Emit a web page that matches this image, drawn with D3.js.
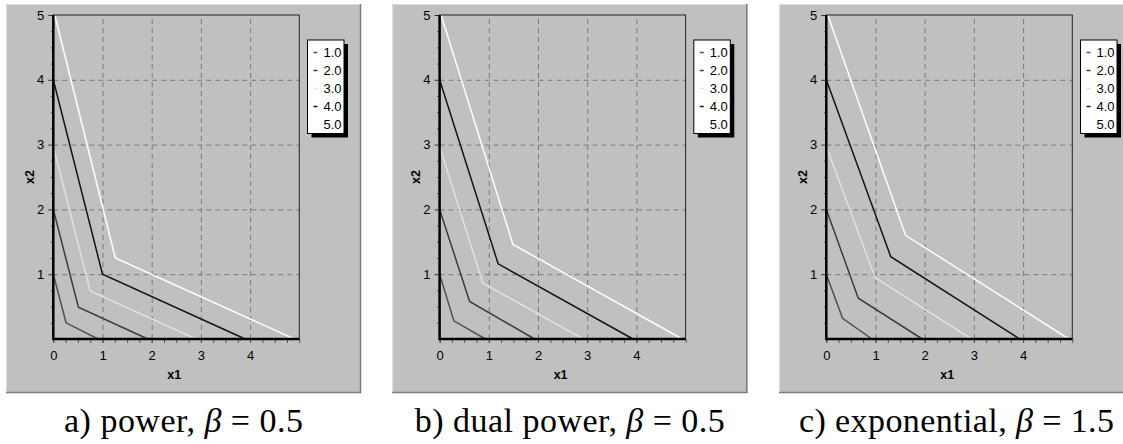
<!DOCTYPE html>
<html>
  <head>
    <title>Indifference curves</title>
    <script src="https://d3js.org/d3.v7.min.js"></script>
    <style>
      body { margin: 0; background: #fff; }
      text { font-family: "Liberation Sans", Arial, sans-serif; }
    </style>
  </head>

  <body>
    <svg width="1123" height="444"></svg>

    <script type="text/javascript">
      // levels shown in the legend, and the colour of each curve
      var levels = ["1.0", "2.0", "3.0", "4.0", "5.0"];
      var lineColors = ["#505050", "#3c3c3c", "#e0e0e0", "#141414", "#ffffff"];

      // axis ticks
      var xLabels = [0, 1, 2, 3, 4];
      var yLabels = [1, 2, 3, 4, 5];
      var gridValues = [1, 2, 3, 4];

      // a) power, beta = 0.5 : [x1, x2] points of each curve
      var powerCurves = [
        [[0, 1], [0.26, 0.25], [0.91, 0]],
        [[0, 2], [0.51, 0.49], [1.92, 0]],
        [[0, 2.97], [0.75, 0.74], [2.9, 0]],
        [[0, 4], [1.0, 1.0], [3.9, 0]],
        [[0.03, 5], [1.26, 1.25], [4.9, 0]]
      ];

      // b) dual power, beta = 0.5
      var dualPowerCurves = [
        [[0, 1], [0.29, 0.28], [0.93, 0]],
        [[0, 2], [0.61, 0.58], [1.93, 0]],
        [[0, 2.97], [0.88, 0.86], [2.92, 0]],
        [[0, 4], [1.19, 1.16], [3.93, 0]],
        [[0.03, 5], [1.49, 1.46], [4.93, 0]]
      ];

      // c) exponential, beta = 1.5
      var expCurves = [
        [[0, 1], [0.33, 0.32], [0.93, 0]],
        [[0, 2], [0.65, 0.63], [1.95, 0]],
        [[0, 2.97], [0.99, 0.95], [2.95, 0]],
        [[0, 4], [1.31, 1.27], [3.93, 0]],
        [[0.03, 5], [1.61, 1.6], [4.93, 0]]
      ];

      var captions = [
        { pre: "a) power, ", post: " = 0.5", width: 239 },
        { pre: "b) dual power, ", post: " = 0.5", width: 310 },
        { pre: "c) exponential, ", post: " = 1.5", width: 315 }
      ];

      var svg = d3.select("svg");

      drawPanel(6, powerCurves, captions[0]);
      drawPanel(392.3, dualPowerCurves, captions[1]);
      drawPanel(779, expCurves, captions[2]);

      function drawPanel(px, curves, caption) {
        var g = svg.append("g");

        // grey panel with 3d edges
        g.append("rect")
          .attr("x", px)
          .attr("y", 4)
          .attr("width", 355)
          .attr("height", 389)
          .attr("fill", "#c0c0c0");
        g.append("path")
          .attr("d", "M" + (px + 0.5) + ",393V4.5H" + (px + 355))
          .attr("fill", "none")
          .attr("stroke", "#dedede");
        g.append("path")
          .attr("d", "M" + (px + 354.5) + ",4V392.5H" + px)
          .attr("fill", "none")
          .attr("stroke", "#7c7c7c")
          .attr("stroke-width", 1.5);

        var x = d3.scaleLinear().domain([0, 5]).range([px + 47.3, px + 293.3]);
        var y = d3.scaleLinear().domain([0, 5]).range([339, 15]);

        // dashed grid
        g.append("g")
          .attr("transform", "translate(0,339)")
          .call(d3.axisBottom(x).tickValues(gridValues).tickSize(-324).tickFormat(""))
          .call(function (a) { a.select(".domain").remove(); });
        g.append("g")
          .attr("transform", "translate(" + x(0) + ",0)")
          .call(d3.axisLeft(y).tickValues(gridValues).tickSize(-(x(5) - x(0))).tickFormat(""))
          .call(function (a) { a.select(".domain").remove(); });
        g.selectAll(".tick line")
          .attr("stroke", "#7a7a7a")
          .attr("stroke-dasharray", "5,4");

        // curves
        var line = d3.line()
          .x(function (d) { return x(d[0]); })
          .y(function (d) { return y(d[1]); });
        g.append("g")
          .selectAll("path")
          .data(curves)
          .enter()
          .append("path")
          .attr("d", line)
          .attr("fill", "none")
          .attr("stroke", function (d, i) { return lineColors[i]; })
          .attr("stroke-width", 1.5);

        // minor ticks
        var minor = d3.range(0, 5.01, 0.25);
        var bx = g.append("g")
          .attr("transform", "translate(0,339)")
          .call(d3.axisBottom(x).tickValues(minor).tickSize(4).tickFormat(""));
        bx.select(".domain").remove();
        bx.selectAll("line").attr("stroke", "#555");
        var ly = g.append("g")
          .attr("transform", "translate(" + x(0) + ",0)")
          .call(d3.axisLeft(y).tickValues(minor.filter(function (v) { return v % 1 !== 0; })).tickSize(2.5).tickFormat(""));
        ly.select(".domain").remove();
        ly.selectAll("line").attr("stroke", "#555");

        // labels
        var xl = g.append("g")
          .attr("transform", "translate(0,339)")
          .call(d3.axisBottom(x).tickValues(xLabels).tickSize(4).tickPadding(8).tickFormat(d3.format("d")));
        xl.select(".domain").remove();
        xl.selectAll("line").attr("stroke", "#555");
        xl.selectAll("text")
          .attr("fill", "#000")
          .style("font-size", "13px")
          .style("font-family", "Liberation Sans, Arial, sans-serif");
        var yl = g.append("g")
          .attr("transform", "translate(" + x(0) + ",0)")
          .call(d3.axisLeft(y).tickValues(yLabels).tickSize(5).tickPadding(4).tickFormat(d3.format("d")));
        yl.select(".domain").remove();
        yl.selectAll("line").attr("stroke", "#333");
        yl.selectAll("text")
          .attr("fill", "#000")
          .style("font-size", "13px")
          .style("font-family", "Liberation Sans, Arial, sans-serif");

        // plot frame
        g.append("rect")
          .attr("x", x(0))
          .attr("y", y(5))
          .attr("width", x(5) - x(0))
          .attr("height", y(0) - y(5))
          .attr("fill", "none")
          .attr("stroke", "#222")
          .attr("stroke-width", 1);
        g.append("path")
          .attr("d", "M" + x(0) + "," + y(5) + "V" + y(0) + "H" + x(5))
          .attr("fill", "none")
          .attr("stroke", "#000")
          .attr("stroke-width", 2.5);

        // axis titles
        g.append("text")
          .attr("x", (x(0) + x(5)) / 2 - 2)
          .attr("y", 379)
          .attr("text-anchor", "middle")
          .style("font-size", "12.5px")
          .style("font-weight", "bold")
          .text("x1");
        g.append("text")
          .attr("transform", "translate(" + (px + 27.5) + "," + (y(2.5)) + ") rotate(-90)")
          .attr("text-anchor", "middle")
          .style("font-size", "12.5px")
          .style("font-weight", "bold")
          .text("x2");

        // legend
        var lx = px + 301.5;
        g.append("rect")
          .attr("x", lx + 4)
          .attr("y", 44)
          .attr("width", 36.5)
          .attr("height", 93.5)
          .attr("fill", "#000");
        g.append("rect")
          .attr("x", lx)
          .attr("y", 40)
          .attr("width", 36.5)
          .attr("height", 93.5)
          .attr("fill", "#fff")
          .attr("stroke", "#000");
        var rows = g.append("g")
          .selectAll("g")
          .data(levels)
          .enter()
          .append("g")
          .attr("transform", function (d, i) { return "translate(0," + (52 + i * 18) + ")"; });
        rows.append("line")
          .attr("x1", lx + 6)
          .attr("x2", lx + 10)
          .attr("y1", 0.5)
          .attr("y2", 0.5)
          .attr("stroke", function (d, i) { return lineColors[i]; })
          .attr("stroke-width", 1.5);
        rows.append("text")
          .attr("x", lx + 34)
          .attr("y", 0)
          .attr("dy", "0.36em")
          .attr("text-anchor", "end")
          .style("font-size", "13px")
          .text(function (d) { return d; });

        // caption
        var cap = g.append("text")
          .attr("x", px + 177.5)
          .attr("y", 432)
          .attr("text-anchor", "middle")
          .attr("textLength", caption.width)
          .attr("lengthAdjust", "spacing")
          .style("font-family", "Liberation Serif, Times New Roman, serif")
          .style("font-size", "34px");
        cap.append("tspan").text(caption.pre);
        cap.append("tspan").style("font-style", "italic").text("β");
        cap.append("tspan").text(caption.post);
      }
    </script>
  </body>
</html>
